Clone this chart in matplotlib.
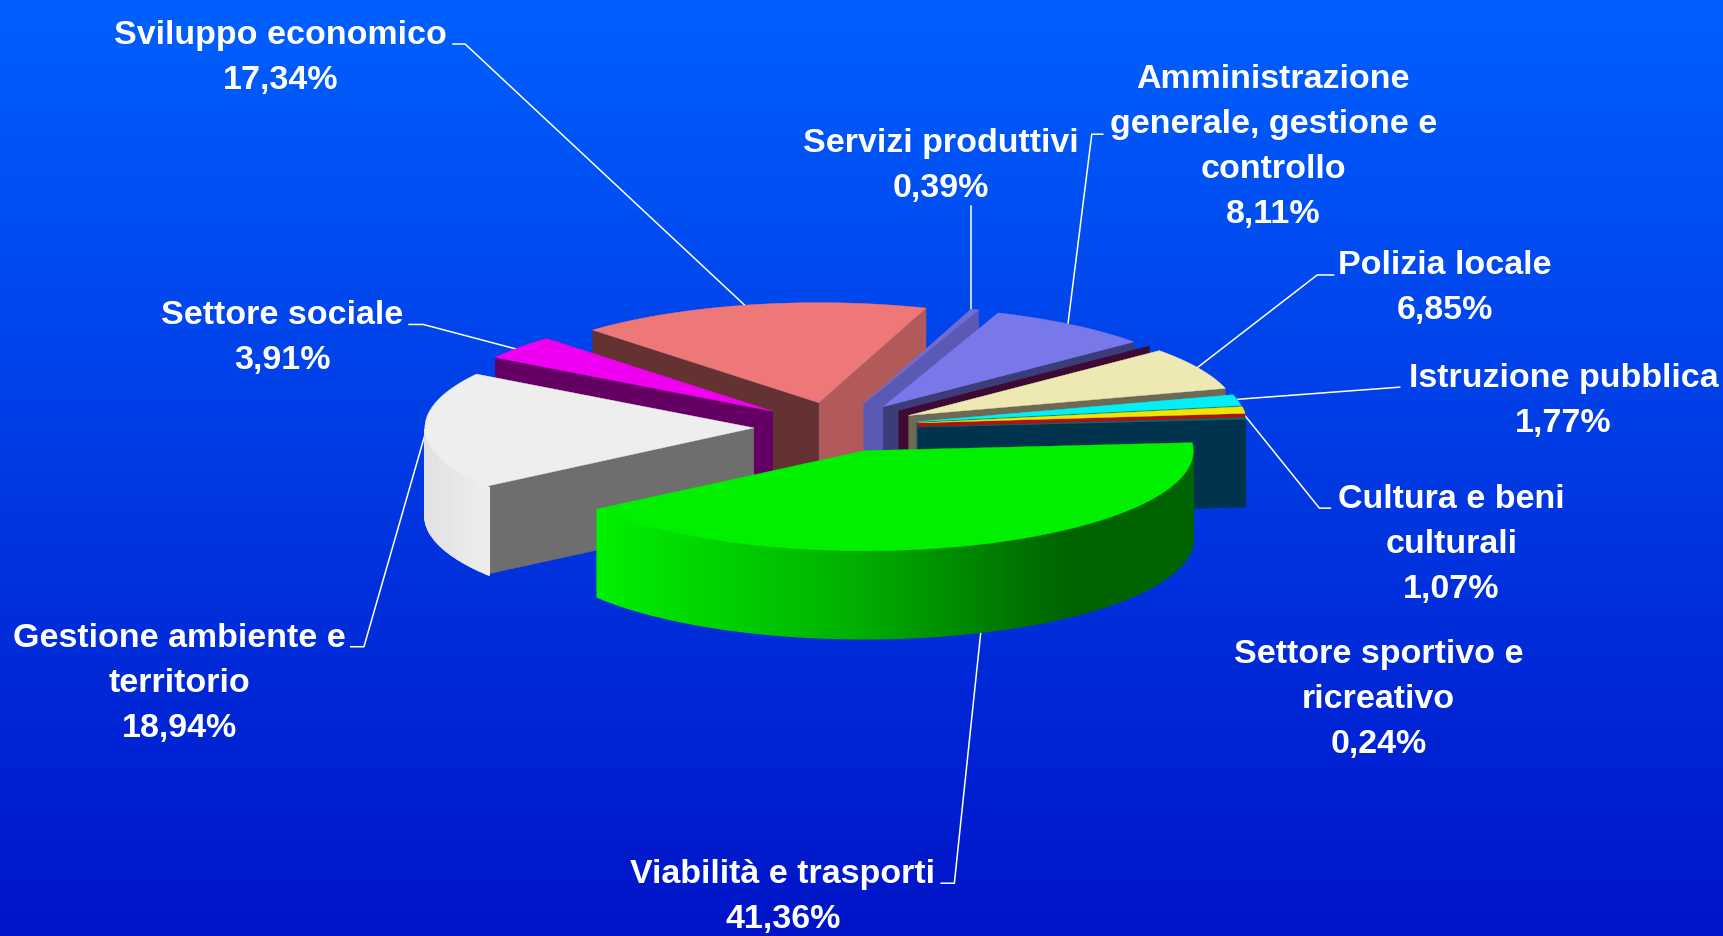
import numpy as np
import matplotlib
matplotlib.use("Agg")
import matplotlib.pyplot as plt
from matplotlib.patches import Polygon

plt.rcParams['font.family'] = ['Liberation Sans', 'DejaVu Sans']

#slices counter clockwise, starting at the right edge of the green one
#the unnamed one has no value, only its dark side can be seen
values = [0.24, 1.07, 1.77, 6.85, 0.0, 8.11, 0.39, 17.34, 3.91, 18.94, 41.36]
top_colors = ['#006e6e', '#f0e600', '#00f0f5', '#eee8b2', '#3c0a32', '#7878eb',
              '#6e6ed2', '#ee7878', '#f000f0', '#eeeeee', '#00f000']
#side that is cut at the start / at the end of the slice
start_faces = ['#00334d', '#aa1414', '#006e78', '#6e6955', '#3c0a32', '#3c3c78',
               '#5a5ab4', '#b25a5a', '#640064', '#6e6e6e', '#006400']
end_faces = ['#00334d', '#aa1414', '#006e78', '#6e6955', '#3c0a32', '#3c3c78',
             '#5a5ab4', '#643232', '#640064', '#6e6e6e', '#006400']
#small vertical shift so the thin slices stay apart
nudge = [2, -1, 0, 0, 0, 0, 0, 0, 0, 0, 0]

labels = ['Sviluppo economico\n17,34%',
          'Servizi produttivi\n0,39%',
          'Amministrazione\ngenerale, gestione e\ncontrollo\n8,11%',
          'Polizia locale\n6,85%',
          'Istruzione pubblica\n1,77%',
          'Cultura e beni\nculturali\n1,07%',
          'Settore sportivo e\nricreativo\n0,24%',
          'Viabilità e trasporti\n41,36%',
          'Gestione ambiente e\nterritorio\n18,94%',
          'Settore sociale\n3,91%']
label_x = [255, 856, 1158, 1314, 1422, 1320, 1254, 712, 163, 257]
label_top = [29, 127, 69, 238, 341, 451, 592, 792, 577, 284]

#leader lines
leaders = [([412, 423, 680], [40, 40, 280]),
           ([883, 883], [187, 285]),
           ([1003, 993, 971], [122, 122, 297]),
           ([1213, 1198, 1088], [250, 250, 335]),
           ([1273, 1126], [352, 363]),
           ([1210, 1200, 1130], [462, 462, 375]),
           ([856, 868, 892], [803, 803, 575]),
           ([319, 331, 388], [588, 588, 390]),
           ([372, 385, 472], [295, 295, 318])]

#pie geometry, in pixels of the 1568x851 view
cx, cy = 760.4, 388.4
rx, ry = 299.2, 91.0
thick = 80.0
explode = 0.25
start_angle = 4.6

fig = plt.figure(figsize=(17.24, 9.36), dpi=100)
ax = fig.add_axes([0, 0, 1, 1])

#background
grad = np.linspace(0, 1, 256).reshape(-1, 1, 1)
top_bg = np.array([0, 96, 255]) / 255
bot_bg = np.array([0, 20, 200]) / 255
ax.imshow(top_bg + grad * (bot_bg - top_bg), extent=[0, 1568, 851, 0], aspect='auto', zorder=0)


def shade(color, angle):
    c = np.array(matplotlib.colors.to_rgb(color))
    f = np.interp(np.cos(np.radians(angle)), [-1, -0.8, 0, 0.6, 1], [0.95, 1, 0.72, 0.42, 0.42])
    return tuple(c * f)


def face(px, py, angle, color):
    x = px + rx * np.cos(np.radians(angle))
    y = py - ry * np.sin(np.radians(angle))
    ax.add_patch(Polygon([(px, py), (x, y), (x, y + thick), (px, py + thick)],
                         facecolor=color, edgecolor=color, lw=0.3, zorder=2))


shares = np.array(values) / sum(values) * 360
ends = start_angle + np.cumsum(shares)
starts = ends - shares
mids = (starts + ends) / 2

#back slices first
for i in np.argsort(-np.sin(np.radians(mids))):
    a1, a2, m = starts[i], ends[i], mids[i]
    px = cx + explode * rx * np.cos(np.radians(m))
    py = cy - explode * ry * np.sin(np.radians(m)) + nudge[i]

    if np.cos(np.radians(a1)) > 0:
        face(px, py, a1, start_faces[i])
    if np.cos(np.radians(a2)) < 0:
        face(px, py, a2, end_faces[i])

    #outer wall, only the front part, in small steps for the gradient
    steps = np.arange(a1, a2 + 1, 1.0)
    for t0, t1 in zip(steps[:-1], steps[1:]):
        if np.sin(np.radians((t0 + t1) / 2)) < 0:
            x0, x1 = px + rx * np.cos(np.radians([t0, t1]))
            y0, y1 = py - ry * np.sin(np.radians([t0, t1]))
            col = shade(top_colors[i], (t0 + t1) / 2)
            ax.add_patch(Polygon([(x0, y0), (x1, y1), (x1, y1 + thick), (x0, y0 + thick)],
                                 facecolor=col, edgecolor=col, lw=1.0, zorder=2))

    arc = np.radians(np.linspace(a1, a2, 100))
    pts = [(px, py)] + list(zip(px + rx * np.cos(arc), py - ry * np.sin(arc)))
    ax.add_patch(Polygon(pts, facecolor=top_colors[i], edgecolor=top_colors[i], lw=0.3, zorder=2))

#leader lines go behind the pie
for lx, ly in leaders:
    ax.plot(lx, ly, color='white', lw=1.1, zorder=1.5)

for text, x, y in zip(labels, label_x, label_top):
    ax.text(x, y - 11, text, color='white', fontsize=24.5, fontweight='bold', ha='center',
            va='top', linespacing=1.585, zorder=3)

ax.set_xlim(0, 1568)
ax.set_ylim(851, 0)
ax.axis('off')

fig.savefig('out.png', dpi=100)
